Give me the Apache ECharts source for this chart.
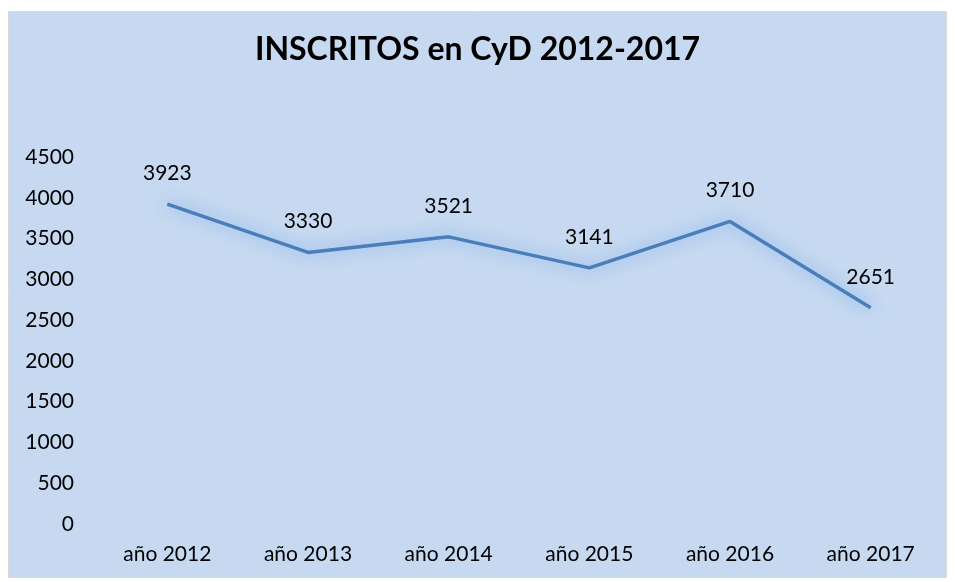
<!DOCTYPE html>
<html><head><meta charset="utf-8">
<script src="https://cdn.jsdelivr.net/npm/echarts@6/dist/echarts.min.js"></script>
<style>html,body{margin:0;padding:0;background:#fff;}#c{width:955px;height:582px;}</style>
</head><body><div id="c"></div>
<script>
const categories = ['año 2012','año 2013','año 2014','año 2015','año 2016','año 2017'];
const inscritos = [3923, 3330, 3521, 3141, 3710, 2651];
const yTicks = {min: 0, max: 4500, interval: 500};
const titleText = 'INSCRITOS en CyD 2012-2017';

const chart = echarts.init(document.getElementById('c'), null, {renderer: 'canvas'});
const font = 'Lato, "Open Sans", "Noto Sans", sans-serif';
chart.setOption({
  animation: false,
  backgroundColor: '#ffffff',
  graphic: [{
    type: 'rect', z: -10, silent: true,
    shape: {x: 8.5, y: 11.5, width: 938, height: 566},
    style: {fill: '#c6d9f0', stroke: '#d9d9d9', lineWidth: 1}
  }],
  title: {
    text: titleText, left: 'center', top: 29,
    textStyle: {fontFamily: font, fontWeight: 'bold', fontSize: 32, color: '#000'}
  },
  grid: {left: 97, right: 14, top: 157, bottom: 58, containLabel: false},
  xAxis: {
    type: 'category', data: categories, boundaryGap: true,
    axisLine: {show: false}, axisTick: {show: false},
    axisLabel: {fontFamily: font, fontSize: 21, color: '#000', margin: 20}
  },
  yAxis: {
    type: 'value', min: yTicks.min, max: yTicks.max, interval: yTicks.interval,
    splitLine: {show: false}, axisLine: {show: false}, axisTick: {show: false},
    axisLabel: {fontFamily: font, fontSize: 21, color: '#000', margin: 23, formatter: v => String(v)}
  },
  series: [{
    type: 'line', data: inscritos, symbol: 'circle', symbolSize: 1, showSymbol: true,
    itemStyle: {color: 'rgba(74,126,187,0)', borderWidth: 0},
    lineStyle: {color: '#4a7ebb', width: 3.5, shadowColor: 'rgba(90,150,230,0.85)', shadowBlur: 16},
    label: {show: true, position: 'top', distance: 20, fontFamily: font, fontSize: 21, color: '#000', formatter: p => String(p.value)}
  }]
});
</script></body></html>
